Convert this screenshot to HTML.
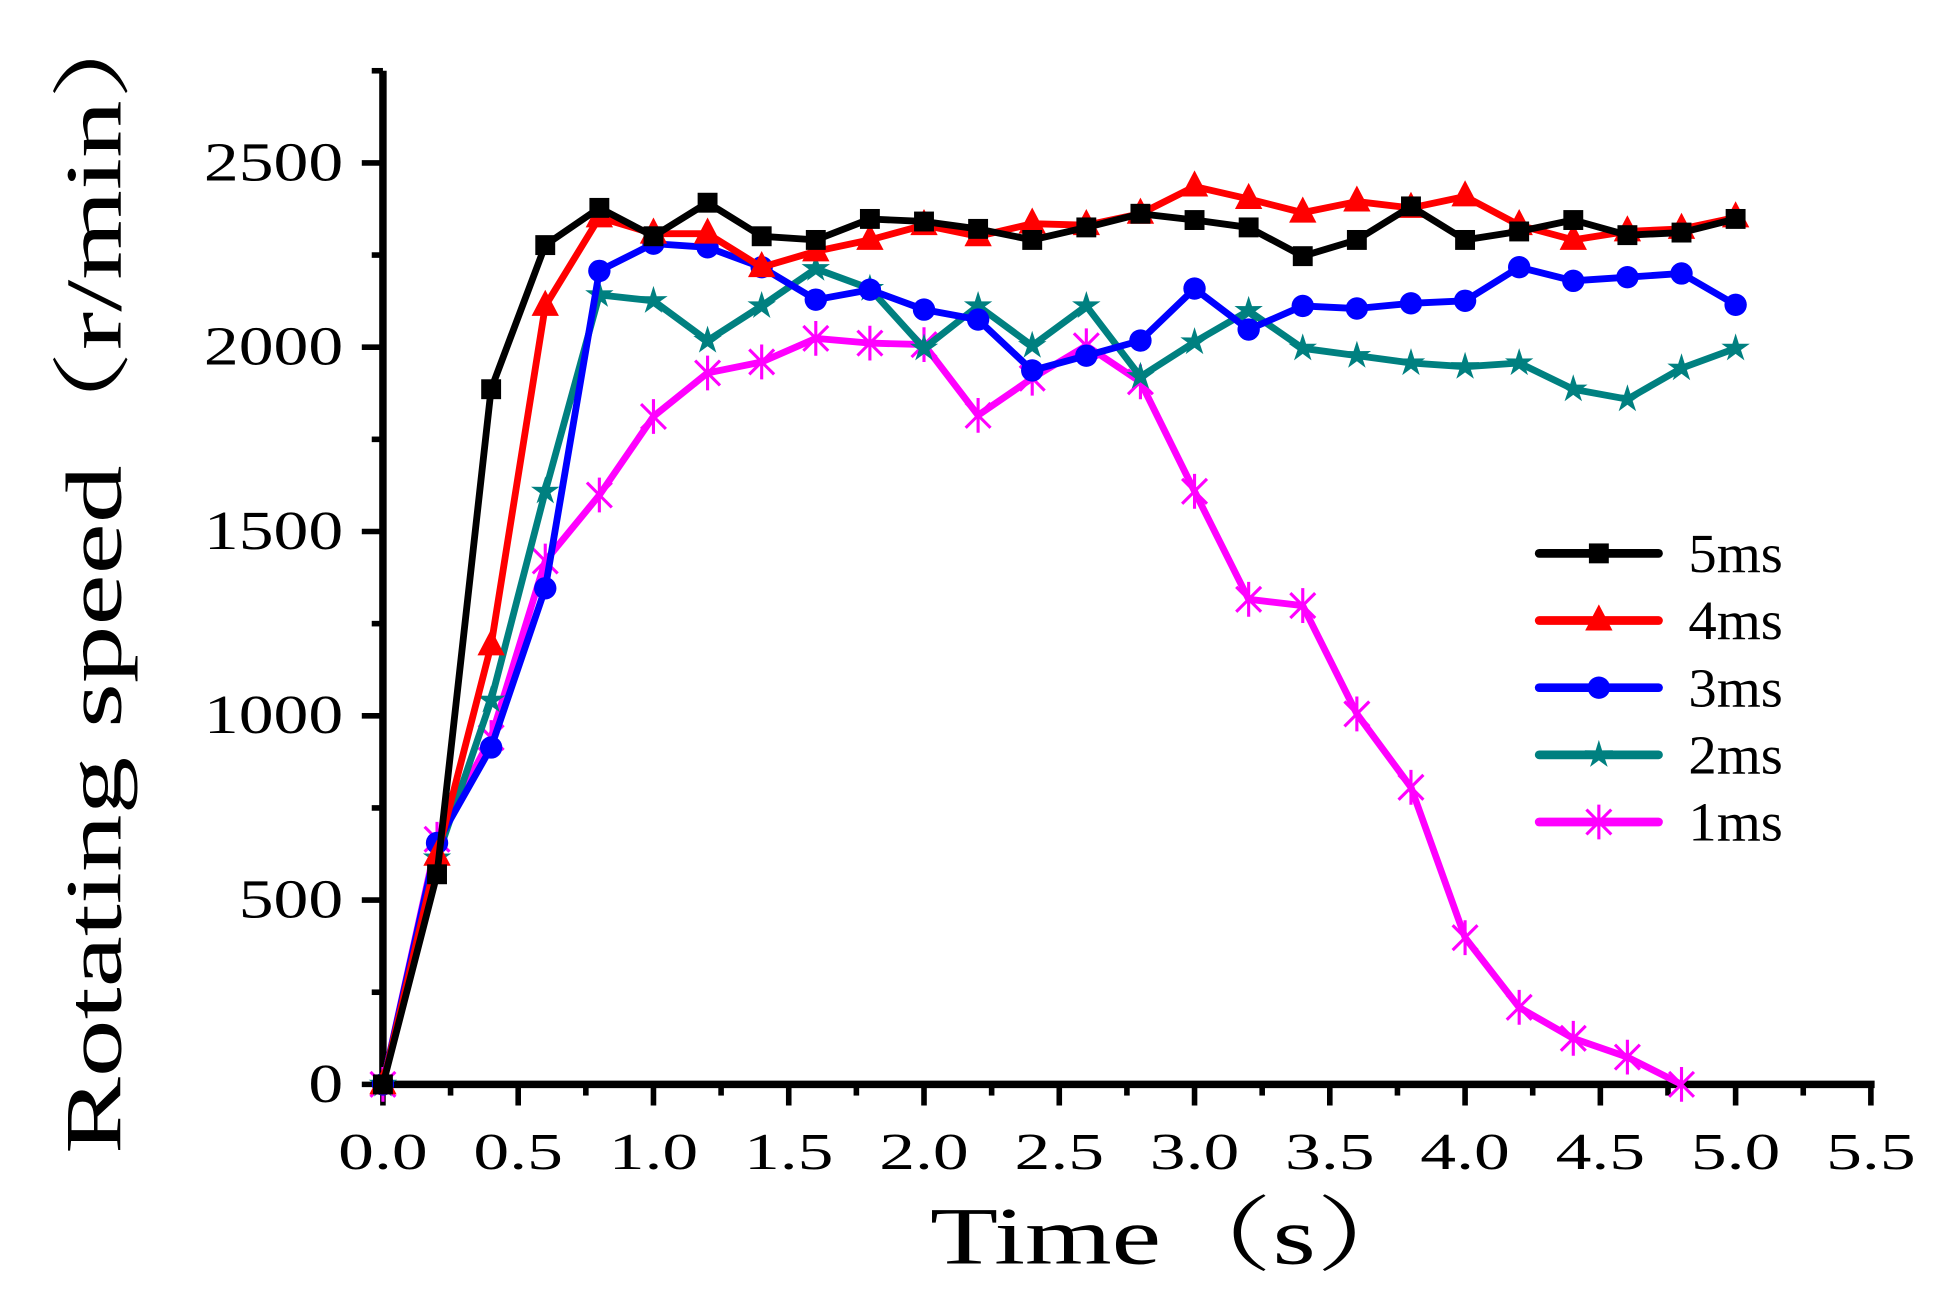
<!DOCTYPE html>
<html><head><meta charset="utf-8"><style>
html,body{margin:0;padding:0;background:#fff;}
svg{display:block;}
text{font-family:"Liberation Serif","Noto Serif CJK SC",serif;fill:#000;}
</style></head><body>
<svg id="chart" width="1942" height="1302" viewBox="0 0 1562 1047" preserveAspectRatio="none" xmlns="http://www.w3.org/2000/svg">
<g id="axes"></g>
<g id="series"></g>
<g id="legend"></g>
<text x="948" y="1016" font-size="66" text-anchor="middle" textLength="400" lengthAdjust="spacingAndGlyphs">Time（s）</text>
<text transform="translate(97,458) rotate(-90)" x="0" y="0" font-size="64" text-anchor="middle" textLength="940" lengthAdjust="spacingAndGlyphs">Rotating speed（r/min）</text>
</svg>
<script>
const times = [0,0.2,0.4,0.6,0.8,1.0,1.2,1.4,1.6,1.8,2.0,2.2,2.4,2.6,2.8,3.0,3.2,3.4,3.6,3.8,4.0,4.2,4.4,4.6,4.8,5.0];
const s5ms = [0,570,1886,2277,2378,2301,2392,2301,2291,2348,2341,2321,2291,2325,2362,2345,2325,2247,2291,2382,2291,2314,2345,2304,2311,2348];
const s4ms = [0,620,1191,2112,2352,2308,2308,2217,2260,2291,2331,2301,2335,2331,2362,2436,2402,2365,2395,2378,2409,2331,2291,2314,2321,2352];
const s3ms = [0,655,914,1346,2207,2281,2271,2217,2129,2156,2102,2075,1937,1977,2018,2159,2048,2112,2105,2119,2126,2217,2180,2190,2200,2115];
const s2ms = [0,614,1042,1609,2142,2126,2018,2112,2213,2159,1997,2112,2004,2112,1920,2014,2099,1997,1977,1957,1947,1957,1886,1859,1943,1997];
const s1ms = [0,665,941,1420,1599,1812,1930,1960,2024,2011,2007,1815,1916,2004,1906,1609,1316,1299,1005,806,398,209,125,74,0];
const seriesNames = ["5ms","4ms","3ms","2ms","1ms"];
const xTickLabels = ["0.0","0.5","1.0","1.5","2.0","2.5","3.0","3.5","4.0","4.5","5.0","5.5"];
const yTickLabels = ["0","500","1000","1500","2000","2500"];

const NS="http://www.w3.org/2000/svg";
const X0=308, XS=217.6, Y0=872, YS=0.2964;
const xf=t=>X0+t*XS, yf=v=>Y0-v*YS;
function mk(tag,attrs,parent){const e=document.createElementNS(NS,tag);for(const k in attrs)e.setAttribute(k,attrs[k]);parent.appendChild(e);return e;}
const axes=document.getElementById('axes');
let a=mk('line',{x1:X0,y1:yf(2750),x2:X0,y2:Y0+3,stroke:'#000','stroke-width':6},axes);


a=mk('line',{x1:X0-3,y1:Y0,x2:xf(5.5)+3,y2:Y0,stroke:'#000','stroke-width':6},axes);


for(let i=0;i<=22;i++){const t=i*0.25;const major=i%2===0;
 const l=mk('line',{x1:xf(t),y1:Y0,x2:xf(t),y2:Y0+(major?17:9),stroke:'#000','stroke-width':4.5},axes);
 
 }
xTickLabels.forEach((s,i)=>{const tx=mk('text',{x:xf(i*0.5),y:940,'font-size':42,'text-anchor':'middle',textLength:72,lengthAdjust:'spacingAndGlyphs'},axes);tx.textContent=s;
 
 });
for(let i=0;i<=11;i++){const v=i*250;const major=i%2===0;
 const l=mk('line',{x1:X0,y1:yf(v),x2:X0-(major?17:9),y2:yf(v),stroke:'#000','stroke-width':4.5},axes);
 
 }
yTickLabels.forEach((s,i)=>{const tx=mk('text',{x:276,y:yf(i*500)+14,'font-size':44,'text-anchor':'end',textLength:s.length*28,lengthAdjust:'spacingAndGlyphs'},axes);tx.textContent=s;
 
 });

const colors=["#000000","#ff0000","#0000ff","#008080","#ff00ff"];
const allData=[s5ms,s4ms,s3ms,s2ms,s1ms];
function marker(kind,x,y,c,g){
 if(kind===0) return mk('rect',{x:x-8,y:y-8,width:16,height:16,fill:c},g);
 if(kind===1) return mk('polygon',{points:`${x},${y-13} ${x+11},${y+8} ${x-11},${y+8}`,fill:c},g);
 if(kind===2) return mk('circle',{cx:x,cy:y,r:9,fill:c},g);
 if(kind===3){let p=[];for(let k=0;k<10;k++){const r=k%2?4.5:12;const an=-Math.PI/2+k*Math.PI/5;p.push((x+r*Math.cos(an)).toFixed(1)+','+(y+r*Math.sin(an)).toFixed(1));}return mk('polygon',{points:p.join(' '),fill:c},g);}
 const d=`M${x-10},${y-10}L${x+10},${y+10}M${x-10},${y+10}L${x+10},${y-10}M${x},${y-14}L${x},${y+14}`;
 return mk('path',{d:d,stroke:c,'stroke-width':2.5,fill:'none'},g);
}
const sg=document.getElementById('series');
[4,3,2,1,0].forEach(si=>{
 const data=allData[si];const c=colors[si];
 const g=mk('g',{},sg);
 
 
 const pts=data.map((v,i)=>xf(times[i]).toFixed(1)+','+yf(v).toFixed(1)).join(' ');
 const pl=mk('polyline',{points:pts,fill:'none',stroke:c,'stroke-width':5.5,'stroke-linejoin':'round'},g);
 
 
 data.forEach((v,i)=>{const m=marker(si,xf(times[i]),yf(v),c,g);
  
  });
});
const lg=document.getElementById('legend');
seriesNames.forEach((n,i)=>{const y=445+i*54;
 const g=mk('g',{},lg);
 
 
 mk('line',{x1:1238,y1:y,x2:1334,y2:y,stroke:colors[i],'stroke-width':7,'stroke-linecap':'round'},g);
 marker(i,1286,y,colors[i],g);
 const t=mk('text',{x:1358,y:y+15,'font-size':44,textLength:76,lengthAdjust:'spacingAndGlyphs'},g);t.textContent=n;});
</script>
</body></html>
